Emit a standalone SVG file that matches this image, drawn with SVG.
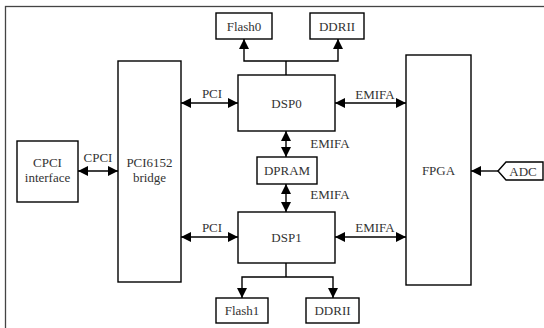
<svg xmlns="http://www.w3.org/2000/svg" width="544" height="328" viewBox="0 0 544 328">
<defs>
<marker id="ah" viewBox="0 0 10 10" refX="10" refY="5" markerWidth="11" markerHeight="10" markerUnits="userSpaceOnUse" orient="auto-start-reverse">
<path d="M0,0 L10,5 L0,10 Z" fill="#000"/>
</marker>
</defs>
<style>
.box{fill:#fff;stroke:#000;stroke-width:1.4}
.ln{fill:none;stroke:#000;stroke-width:1.4}
text{font-family:"Liberation Serif","Times New Roman",serif;font-size:13px;fill:#333;text-anchor:middle}
</style>
<rect x="0" y="0" width="544" height="328" fill="#fff"/>
<rect x="5.5" y="6.5" width="545" height="330" fill="none" stroke="#444" stroke-width="1.3"/>
<g id="connectors">
<line class="ln" x1="78" y1="171" x2="118" y2="171" marker-start="url(#ah)" marker-end="url(#ah)"/>
<line class="ln" x1="181" y1="103" x2="238" y2="103" marker-start="url(#ah)" marker-end="url(#ah)"/>
<line class="ln" x1="181" y1="237" x2="238" y2="237" marker-start="url(#ah)" marker-end="url(#ah)"/>
<line class="ln" x1="335" y1="103" x2="406" y2="103" marker-start="url(#ah)" marker-end="url(#ah)"/>
<line class="ln" x1="335" y1="237" x2="406" y2="237" marker-start="url(#ah)" marker-end="url(#ah)"/>
<line class="ln" x1="286" y1="131" x2="286" y2="157" marker-start="url(#ah)" marker-end="url(#ah)"/>
<line class="ln" x1="286" y1="184" x2="286" y2="212" marker-start="url(#ah)" marker-end="url(#ah)"/>
<line class="ln" x1="498" y1="171" x2="471" y2="171" marker-end="url(#ah)"/>
<polyline class="ln" points="286,75 286,61"/>
<polyline class="ln" points="244,39 244,61 338,61 338,39" marker-start="url(#ah)" marker-end="url(#ah)"/>
<polyline class="ln" points="286,263 286,277"/>
<polyline class="ln" points="242,298 242,277 333,277 333,298" marker-start="url(#ah)" marker-end="url(#ah)"/>
<text x="98" y="162">CPCI</text>
<text x="212" y="98">PCI</text>
<text x="212" y="232">PCI</text>
<text x="375" y="99">EMIFA</text>
<text x="375" y="232">EMIFA</text>
<text x="330" y="148">EMIFA</text>
<text x="330" y="199">EMIFA</text>
</g>
<g id="cpci"><rect class="box" x="17" y="141" width="61" height="61"/><text x="47.5" y="167">CPCI</text><text x="47.5" y="182">interface</text></g>
<g id="bridge"><rect class="box" x="118" y="61" width="63" height="221"/><text x="149.5" y="167">PCI6152</text><text x="149.5" y="182">bridge</text></g>
<g id="flash0"><rect class="box" x="216" y="13" width="56" height="26"/><text x="244" y="30.5">Flash0</text></g>
<g id="ddr0"><rect class="box" x="310" y="13" width="54" height="26"/><text x="337" y="30.5">DDRII</text></g>
<g id="dsp0"><rect class="box" x="238" y="75" width="97" height="56"/><text x="286.5" y="107.5">DSP0</text></g>
<g id="dpram"><rect class="box" x="257" y="157" width="60" height="27"/><text x="287" y="175">DPRAM</text></g>
<g id="dsp1"><rect class="box" x="238" y="212" width="97" height="51"/><text x="286.5" y="242">DSP1</text></g>
<g id="flash1"><rect class="box" x="216" y="298" width="52" height="25"/><text x="242" y="315">Flash1</text></g>
<g id="ddr1"><rect class="box" x="306" y="298" width="53" height="25"/><text x="332.5" y="315">DDRII</text></g>
<g id="fpga"><rect class="box" x="406" y="55" width="65" height="230"/><text x="438.5" y="175">FPGA</text></g>
<g id="adc"><polygon class="box" points="498,171 506,162 543,162 543,180 506,180"/><text x="523" y="175.5">ADC</text></g>
</svg>
